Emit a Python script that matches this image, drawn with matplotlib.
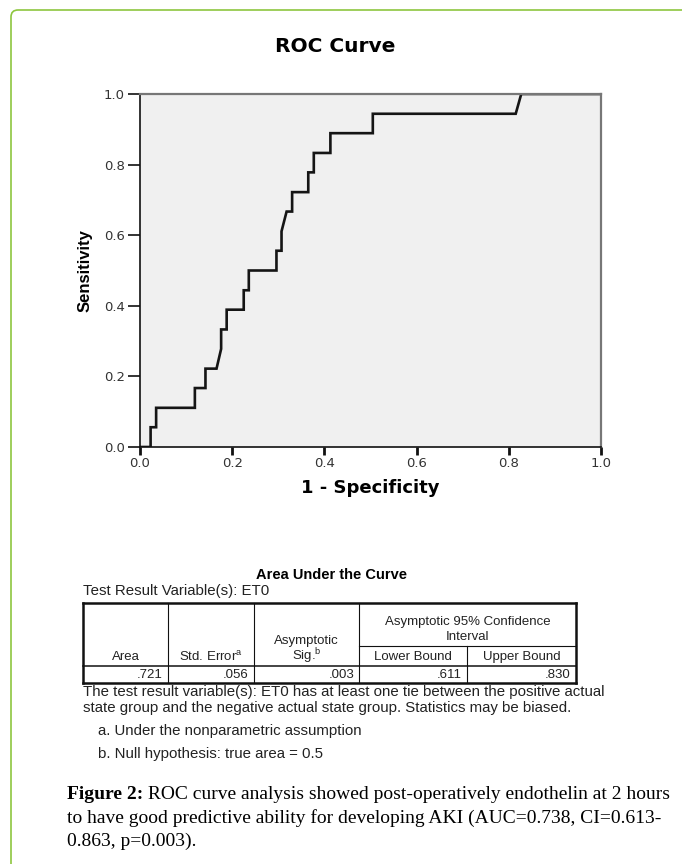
# -*- coding: utf-8 -*-
"""
ROC curve for ET0 with the SPSS 'Area Under the Curve' table and caption.
"""

# --IMPORTS---
import matplotlib
matplotlib.use('Agg')
import matplotlib.pyplot as plt
from matplotlib.lines import Line2D
from matplotlib.patches import FancyBboxPatch

# --DATA---
fpr = [0.0, 0.023, 0.023, 0.035, 0.035, 0.119, 0.119, 0.142, 0.142, 0.166,
       0.176, 0.176, 0.188, 0.188, 0.225, 0.225, 0.236, 0.236, 0.296, 0.296,
       0.307, 0.307, 0.318, 0.330, 0.330, 0.365, 0.365, 0.377, 0.377, 0.413,
       0.413, 0.505, 0.505, 0.815, 0.827, 1.0]
tpr = [0.0, 0.0, 0.056, 0.056, 0.111, 0.111, 0.167, 0.167, 0.222, 0.222,
       0.278, 0.333, 0.333, 0.389, 0.389, 0.444, 0.444, 0.5, 0.5, 0.556,
       0.556, 0.611, 0.667, 0.667, 0.722, 0.722, 0.778, 0.778, 0.833, 0.833,
       0.889, 0.889, 0.944, 0.944, 1.0, 1.0]
ticks = [0.0, 0.2, 0.4, 0.6, 0.8, 1.0]
tick_labels = ['0.0', '0.2', '0.4', '0.6', '0.8', '1.0']

header_cols = ['Area', r'Std. Error$^{\rm a}$']
header_sig = ['Asymptotic', r'Sig.$^{\rm b}$']
header_ci = ['Asymptotic 95% Confidence', 'Interval']
header_bounds = ['Lower Bound', 'Upper Bound']
auc_values = ['.721', '.056', '.003', '.611', '.830']

notes = ['The test result variable(s): ET0 has at least one tie between the positive actual',
         'state group and the negative actual state group. Statistics may be biased.']
footnotes = ['a. Under the nonparametric assumption',
             'b. Null hypothesis: true area = 0.5']
caption_bold = 'Figure 2:'
caption_lines = [' ROC curve analysis showed post-operatively endothelin at 2 hours',
                 'to have good predictive ability for developing AKI (AUC=0.738, CI=0.613-',
                 '0.863, p=0.003).']

# --CONSTANTS---
W, H = 682, 864
COL_X = [83, 168, 254, 359, 467, 576]   # table column borders (px)
SANS = 'Liberation Sans'
SERIF = 'Liberation Serif'


# ---FUNCTIONS---
def fx(x):
    return x / W


def fy(y):
    return 1 - y / H


def hline(fig, x0, x1, y, lw):
    fig.add_artist(Line2D([fx(x0), fx(x1)], [fy(y), fy(y)], color='#111', lw=lw,
                          solid_capstyle='projecting'))


def vline(fig, x, y0, y1, lw):
    fig.add_artist(Line2D([fx(x), fx(x)], [fy(y0), fy(y1)], color='#111', lw=lw,
                          solid_capstyle='projecting'))


def main():
    plt.rcParams['mathtext.fontset'] = 'custom'
    plt.rcParams['mathtext.rm'] = SANS

    fig = plt.figure(figsize=(W / 100, H / 100), dpi=100)
    fig.patch.set_facecolor('white')

    # Green frame of the figure box (open to the right and bottom)
    frame = FancyBboxPatch((0.11, -0.3), 7.2, 8.84,
                           boxstyle='round,pad=0,rounding_size=0.07',
                           transform=fig.dpi_scale_trans, fill=False,
                           edgecolor='#8dc63f', lw=1.2)
    fig.add_artist(frame)

    # ROC plot
    ax = fig.add_axes([fx(140), fy(447), fx(601 - 140), (447 - 94) / H])
    ax.set_facecolor('#f0f0f0')
    ax.plot(fpr, tpr, color='#151515', lw=1.9, solid_joinstyle='miter')
    ax.set_xlim(0, 1)
    ax.set_ylim(0, 1)
    ax.set_xticks(ticks)
    ax.set_yticks(ticks)
    ax.set_xticklabels(tick_labels, family='DejaVu Sans', fontsize=9.5, color='#333')
    ax.set_yticklabels(tick_labels, family='DejaVu Sans', fontsize=9.5, color='#333')
    ax.tick_params(axis='x', direction='out', length=5.5, width=2, color='#111', pad=2)
    ax.tick_params(axis='y', direction='out', length=9, width=1.2, color='#111', pad=2)
    for side in ['left', 'bottom']:
        ax.spines[side].set_color('#111')
        ax.spines[side].set_linewidth(1.2)
    for side in ['top', 'right']:
        ax.spines[side].set_color('#777')
        ax.spines[side].set_linewidth(1.6)
    ax.set_xlabel('1 - Specificity', family='DejaVu Sans', fontweight='bold',
                  fontsize=13, labelpad=6)
    ax.set_ylabel('Sensitivity', family=SANS, fontweight='bold', fontsize=12,
                  labelpad=8)

    fig.text(fx(335), fy(46), 'ROC Curve', family='DejaVu Sans', fontweight='bold',
             fontsize=14.5, ha='center', va='center')

    # Area Under the Curve table
    fig.text(fx(332), fy(575), 'Area Under the Curve', family=SANS, fontweight='bold',
             fontsize=10.5, ha='center', va='center')
    fig.text(fx(83), fy(591), 'Test Result Variable(s): ET0', family=SANS,
             fontsize=10.8, ha='left', va='center', color='#222')

    top, mid, head, bottom = 603, 646, 666, 683
    hline(fig, COL_X[0], COL_X[-1], top, 1.8)
    hline(fig, COL_X[0], COL_X[-1], bottom, 1.8)
    hline(fig, COL_X[0], COL_X[-1], head, 1.1)
    hline(fig, COL_X[3], COL_X[-1], mid, 0.8)
    vline(fig, COL_X[0], top, bottom, 1.8)
    vline(fig, COL_X[-1], top, bottom, 1.8)
    for x in COL_X[1:4]:
        vline(fig, x, top, bottom, 0.8)
    vline(fig, COL_X[4], mid, bottom, 0.8)

    cell = dict(family=SANS, fontsize=9.5, color='#222', va='center')
    for i, label in enumerate(header_cols):
        fig.text(fx((COL_X[i] + COL_X[i + 1]) / 2), fy(657), label, ha='center', **cell)
    sig_x = fx((COL_X[2] + COL_X[3]) / 2)
    fig.text(sig_x, fy(641), header_sig[0], ha='center', **cell)
    fig.text(sig_x, fy(656), header_sig[1], ha='center', **cell)
    ci_x = fx((COL_X[3] + COL_X[5]) / 2)
    fig.text(ci_x, fy(622), header_ci[0], ha='center', **cell)
    fig.text(ci_x, fy(637), header_ci[1], ha='center', **cell)
    for i, label in enumerate(header_bounds):
        fig.text(fx((COL_X[3 + i] + COL_X[4 + i]) / 2), fy(657), label, ha='center', **cell)
    for i, value in enumerate(auc_values):
        fig.text(fx(COL_X[i + 1] - 5), fy(675), value, ha='right', **cell)

    # Notes below the table
    note = dict(family=SANS, fontsize=10.8, color='#222', va='center', ha='left')
    fig.text(fx(83), fy(692), notes[0], **note)
    fig.text(fx(83), fy(708), notes[1], **note)
    fig.text(fx(98), fy(731), footnotes[0], **note)
    fig.text(fx(98), fy(754), footnotes[1], **note)

    # Caption with bold lead
    bg = fig.add_axes([0, 0, 1, 1], zorder=-1)
    bg.axis('off')
    size = 14
    lead = bg.text(fx(67), fy(799), caption_bold, family=SERIF, fontweight='bold',
                   fontsize=size, ha='left', va='baseline', transform=bg.transAxes)
    bg.annotate(caption_lines[0], xy=(1, 0), xycoords=lead, family=SERIF,
                fontsize=size, ha='left', va='bottom')
    bg.text(fx(67), fy(823), caption_lines[1], family=SERIF, fontsize=size,
            ha='left', va='baseline', transform=bg.transAxes)
    bg.text(fx(67), fy(846), caption_lines[2], family=SERIF, fontsize=size,
            ha='left', va='baseline', transform=bg.transAxes)

    fig.savefig('out.png', dpi=100)


# ---MAIN---
if __name__ == '__main__':
    main()
